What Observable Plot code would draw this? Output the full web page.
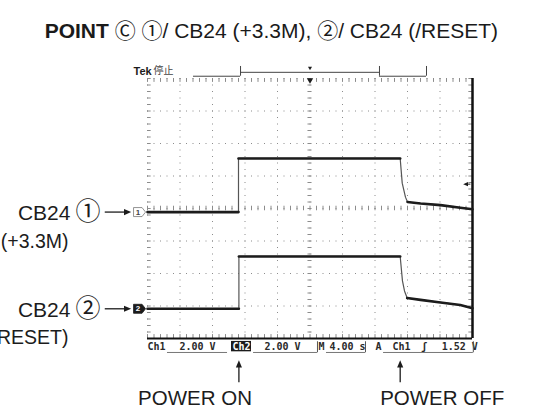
<!DOCTYPE html>
<html><head><meta charset="utf-8">
<script src="https://cdn.jsdelivr.net/npm/d3@7"></script>
<script src="https://cdn.jsdelivr.net/npm/@observablehq/plot@0.6"></script>
<style>
body{margin:0;background:#fff;width:549px;height:409px;overflow:hidden;font-family:"Liberation Sans",Arial,sans-serif}
#title{position:relative;height:50px}
#title > span{position:absolute;right:51px;top:19px;font-size:21px;line-height:21px;white-space:nowrap;color:#1a1a1a}
#title .c{font-family:"Noto Sans CJK JP",sans-serif;font-size:21px;font-weight:normal}
#chart svg{display:block}
</style></head><body>
<div id="title"><span id="tt"></span></div>
<div id="chart"></div>
<script>
// ---- data ----
const titleBold = "POINT";
const titleMarks = ["Ⓒ", "①", "②"];
const titleTexts = ["/ CB24 (+3.3M), ", "/ CB24 (/RESET)"];

const timeDivs = [0, 4, 8, 12, 16, 20, 24, 28, 32, 36, 40];      // seconds (4 s/div)
const voltDivs = [-4, -3, -2, -1, 0, 1, 2, 3, 4];                // screen divisions
const voltsPerDiv = 2;

const ch1Time    = [0, 11.2, 11.2, 31.1, 31.35, 31.75, 32.0, 33.6, 36.06, 38.5, 40];
const ch1Volts   = [0, 0,    3.3,  3.3,  1.78,  0.92,  0.62, 0.53, 0.43,  0.27, 0.17];
const ch1Segment = ["low","low","high","high","edge","edge","tail","tail","tail","tail","tail"];
const ch1Offset  = -0.11;   // divisions

const ch2Time    = [0, 11.25, 11.25, 31.1, 31.38, 31.63, 31.96, 33.6, 36.06, 38.5, 40];
const ch2Volts   = [0, 0,     3.22,  3.22, 1.72,  1.1,   0.66,  0.55, 0.39,  0.23, 0.04];
const ch2Segment = ["low","low","high","high","edge","edge","tail","tail","tail","tail","tail"];
const ch2Offset  = -3.086;

const channelNames = ["CB24", "CB24"];
const channelMarks = ["①", "②"];
const channelNotes = ["(+3.3M)", "(/RESET)"];
const channelIds   = ["1", "2"];
const eventLabels  = ["POWER ON", "POWER OFF"];
const eventTimes   = [11.25, 31.1];
const triggerLevelV = 1.52;

const readoutTexts = ["Ch1", "2.00 V", "2.00 V", "M", "4.00 s", "A", "Ch1", "ʃ", "1.52 V"];
const readoutTimes = [0, 3.94, 14.4, 21.05, 22.4, 28.06, 30.15, 33.7, 36.2];
const headerTexts  = ["Tek", "停止"];

// ---- title ----
{
  const tt = document.getElementById("tt");
  const add = (txt, cls) => { const s = document.createElement(cls === "b" ? "b" : "span"); if (cls === "c") s.className = "c"; s.textContent = txt; tt.append(s); };
  add(titleBold, "b"); add(" ");
  add(titleMarks[0], "c"); add(" ");
  add(titleMarks[1], "c"); add(titleTexts[0]);
  add(titleMarks[2], "c"); add(titleTexts[1]);
}

// ---- build tables ----
const trace = (T, V, S, off, ch) => T.map((t, i) => ({t, v: V[i], seg: S[i], y: off + V[i] / voltsPerDiv, ch}));
const tr1 = trace(ch1Time, ch1Volts, ch1Segment, ch1Offset, 1);
const tr2 = trace(ch2Time, ch2Volts, ch2Segment, ch2Offset, 2);
const minorX = d3.range(0, 40.001, 0.8);
const minorY = d3.range(-4, 4.001, 0.2);
const channels = channelNames.map((n, i) => ({name: n, mark: channelMarks[i], note: channelNotes[i], id: channelIds[i], y: [ch1Offset, ch2Offset][i], i}));
const events = eventLabels.map((l, i) => ({label: l, t: eventTimes[i], i}));
const readouts = readoutTexts.map((s, i) => ({s, t: readoutTimes[i]}));
const eventLabelAt = [5.85, 36.27];   // label placement (time units)

const sym = pts => ({draw(c, size) { const r = Math.sqrt(size / Math.PI); pts.forEach(([a, b], k) => k ? c.lineTo(a * r, b * r) : c.moveTo(a * r, b * r)); c.closePath(); }});
const pent = sym([[-1.2,-0.9],[0.5,-0.9],[1.2,0],[0.5,0.9],[-1.2,0.9]]);
const triRight = sym([[-1,-0.85],[1,0],[-1,0.85]]);
const triLeft = sym([[1,-0.85],[-1,0],[1,0.85]]);
const triUp = sym([[-0.85,1],[0,-1],[0.85,1]]);
const triDown = sym([[-1,-0.8],[1,-0.8],[0,0.9]]);

const grid = "#8c8c8c";
const ink = "#1c1c1c";
const mono = '"DejaVu Sans Mono", monospace';
const cjk = '"Noto Sans CJK JP", sans-serif';

const plot = Plot.plot({
  width: 549, height: 359,
  marginLeft: 147, marginRight: 77, marginTop: 28, marginBottom: 71,
  x: {domain: [0, 40], axis: null},
  y: {domain: [-4, 4], axis: null},
  style: {fontFamily: '"Liberation Sans", Arial, sans-serif', background: "#fff", color: ink},
  marks: [
    // graticule
    Plot.ruleX(timeDivs, {stroke: grid, strokeDasharray: "1,5.5"}),
    Plot.ruleY(voltDivs, {stroke: grid, strokeDasharray: "1,5.5"}),
    Plot.ruleX(minorX, {x: d => d, y1: -0.07, y2: 0.07, stroke: grid}),
    Plot.ruleY(minorY, {y: d => d, x1: 19.75, x2: 20.25, stroke: grid}),
    Plot.ruleX(minorX, {x: d => d, y1: 4, y2: 3.88, stroke: grid}),
    Plot.ruleX(minorX, {x: d => d, y1: -4, y2: -3.88, stroke: grid}),
    Plot.ruleY(minorY, {y: d => d, x1: 0, x2: 0.45, stroke: grid}),
    Plot.ruleY(minorY, {y: d => d, x1: 40, x2: 39.55, stroke: grid}),
    Plot.ruleX([40], {stroke: "#111", strokeWidth: 2.5}),
    Plot.ruleY([-4], {stroke: "#111", strokeWidth: 1.8}),
    // traces
    Plot.line(tr1, {x: "t", y: "y", stroke: "#555", strokeWidth: 1.2}),
    Plot.line(tr2, {x: "t", y: "y", stroke: "#555", strokeWidth: 1.2}),
    Plot.line(tr1, {filter: d => d.seg !== "edge", x: "t", y: "y", z: "seg", stroke: ink, strokeWidth: 2.6}),
    Plot.line(tr2, {filter: d => d.seg !== "edge", x: "t", y: "y", z: "seg", stroke: ink, strokeWidth: 2.6}),
    // trigger markers
    Plot.dot([20], {x: d => d, y: 3.93, symbol: triDown, r: 3.2, fill: ink, stroke: null}),
    Plot.dot([ch1Offset + triggerLevelV / voltsPerDiv + 0.1], {x: 39.15, y: d => d, symbol: triLeft, r: 2.4, fill: ink, stroke: null}),
    Plot.ruleY([ch1Offset + triggerLevelV / voltsPerDiv + 0.1], {x1: 39.2, x2: 39.8, stroke: ink}),
    // channel ground markers
    Plot.dot(channels, {x: -0.98, y: "y", symbol: pent, r: 5, fill: d => d.i ? ink : "#fff", stroke: d => d.i ? ink : "#777", strokeWidth: 0.8}),
    Plot.text(channels, {x: -0.98, y: "y", text: "id", dx: -1.5, fontSize: 8, fontWeight: "bold", fill: d => d.i ? "#fff" : "#444"}),
    // left labels and arrows
    Plot.ruleY(channels, {y: "y", x1: -5.2, x2: -2.4, stroke: ink, strokeWidth: 1.3}),
    Plot.dot(channels, {x: -2.45, y: "y", symbol: triRight, r: 3.6, fill: ink, stroke: null}),
    Plot.text(channels, {x: -9.48, y: "y", text: "name", textAnchor: "end", fontSize: 21, fill: ink, dy: 1}),
    Plot.text(channels, {x: -7.32, y: "y", text: "mark", fontSize: 25, fontFamily: cjk, fill: ink}),
    Plot.text(channels, {x: -9.72, y: d => d.y - 0.9, text: "note", textAnchor: "end", fontSize: 19.5, fill: ink}),
    // bottom events
    Plot.ruleX(events, {x: "t", y1: -5.36, y2: -4.85, stroke: ink, strokeWidth: 1.3}),
    Plot.dot(events, {x: "t", y: -4.78, symbol: triUp, r: 3.6, fill: ink, stroke: null}),
    Plot.text(events, {x: d => eventLabelAt[d.i], y: -5.85, text: "label", fontSize: 20.5, fill: ink}),
    // readout bar
    Plot.rect([0], {x1: 10.34, x2: 12.8, y1: -4.09, y2: -4.41, fill: ink}),
    Plot.text(["Ch2"], {x: 11.57, y: -4.25, text: d => d, fontFamily: mono, fontSize: 10, fontWeight: "bold", fill: "#fff"}),
    Plot.text(readouts, {x: "t", y: -4.25, text: "s", textAnchor: "start", fontFamily: mono, fontSize: 10, fontWeight: "bold", fill: "#2a2a2a"}),
    Plot.ruleY([[2.46, 9.85], [13.05, 20.92], [22.03, 26.83], [29.05, 40.1]], {y: -4.43, x1: d => d[0], x2: d => d[1], stroke: "#777", strokeWidth: 1}),
    Plot.ruleX([20.92, 26.83, 40.1], {x: d => d, y1: -4.1, y2: -4.44, stroke: "#555"}),
    // header
    Plot.text([headerTexts[0]], {x: -1.72, y: 4.23, text: d => d, textAnchor: "start", fontSize: 11, fontWeight: "bold", fill: ink}),
    Plot.text([headerTexts[1]], {x: 0.74, y: 4.23, text: d => d, textAnchor: "start", fontSize: 10, fontFamily: cjk, fill: "#444"}),
    Plot.ruleY([[5.66, 11.45], [28.55, 34.34]], {y: 4.07, x1: d => d[0], x2: d => d[1], stroke: "#444"}),
    Plot.ruleY([[11.45, 28.55]], {y: 4.19, x1: d => d[0], x2: d => d[1], stroke: "#444"}),
    Plot.ruleX([11.45, 28.55, 34.34], {x: d => d, y1: 4.07, y2: 4.37, stroke: "#444"}),
    Plot.dot([20], {x: d => d, y: 4.31, symbol: triDown, r: 2, fill: ink, stroke: null})
  ]
});
document.getElementById("chart").append(plot);
</script>
</body></html>
